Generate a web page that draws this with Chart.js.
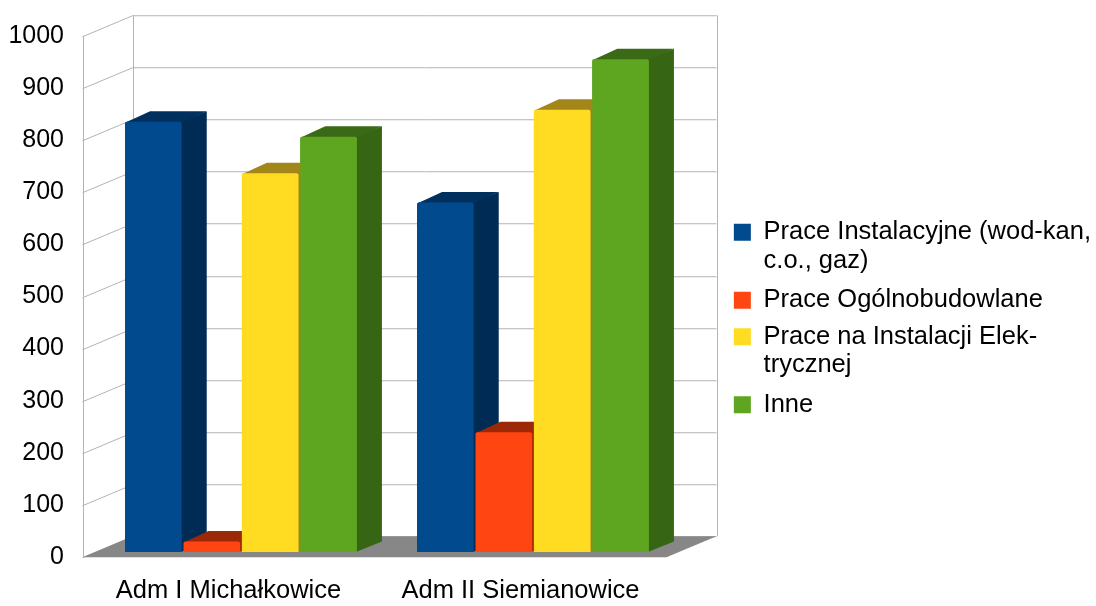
<!DOCTYPE html>
<html>
<head>
<meta charset="utf-8">
<title>Prace 2 administracje</title>
<script src="https://cdn.jsdelivr.net/npm/chart.js@4.4.1/dist/chart.umd.min.js"></script>
<style>
  html, body { margin: 0; padding: 0; background: #ffffff; }
</style>
</head>
<body>
<canvas id="prace" width="1096" height="606"></canvas>
<script>
// data
const categories = ["Adm I Michałkowice", "Adm II Siemianowice"];
const seriesNames = [
  "Prace Instalacyjne (wod-kan, c.o., gaz)",
  "Prace Ogólnobudowlane",
  "Prace na Instalacji Elektrycznej",
  "Inne"
];
// legend text as it is wrapped in the original
const legendLines = [
  ["Prace Instalacyjne (wod-kan,", "c.o., gaz)"],
  ["Prace Ogólnobudowlane"],
  ["Prace na Instalacji Elek-", "trycznej"],
  ["Inne"]
];
const instalacyjne = [826, 671];
const ogolnobudowlane = [20, 230];
const elektryczne = [727, 849];
const inne = [797, 946];
const yTicks = [0, 100, 200, 300, 400, 500, 600, 700, 800, 900, 1000];

// colours: front, side, top
const frontCol = ["#004a8d", "#ff4511", "#ffdc22", "#5ea520"];
const sideCol = ["#002b54", "#a32a0a", "#a08414", "#366514"];
const topCol = ["#00305d", "#9c2808", "#a3861a", "#3a6a16"];

Chart.defaults.font.family = "'Liberation Sans', Arial, sans-serif";
Chart.defaults.color = "#000";

// 3d look: the walls sit 0.25 of the depth in front of / 0.75 behind the bar plane
const DX = 50, DY = -21;
const FRONT = 0.25;

const walls3d = {
  id: "walls3d",
  afterLayout(chart) {
    // nudge legend a little to the right, like the original
    chart.legend.left += 5;
    chart.legend.right += 5;
  },
  beforeDatasetsDraw(chart) {
    const {ctx, chartArea: a, scales: {y}} = chart;
    const fx = -DX * FRONT, fy = -DY * FRONT;
    const bx = DX * (1 - FRONT), by = DY * (1 - FRONT);
    const y0 = y.getPixelForValue(0);
    const yTop = y.getPixelForValue(yTicks[yTicks.length - 1]);
    ctx.save();
    ctx.strokeStyle = "#b3b3b3";
    ctx.lineWidth = 1;
    ctx.beginPath();
    yTicks.forEach(v => {
      const p = Math.round(y.getPixelForValue(v)) + 0.5;
      ctx.moveTo(a.left + fx, p + fy);
      ctx.lineTo(a.left + bx, p + by);
      ctx.lineTo(a.right + bx, p + by);
    });
    // wall edges
    ctx.moveTo(Math.round(a.left + fx) + 0.5, yTop + fy);
    ctx.lineTo(Math.round(a.left + fx) + 0.5, y0 + fy);
    ctx.moveTo(Math.round(a.left + bx) + 0.5, yTop + by);
    ctx.lineTo(Math.round(a.left + bx) + 0.5, y0 + by);
    ctx.moveTo(Math.round(a.right + bx) + 0.5, yTop + by);
    ctx.lineTo(Math.round(a.right + bx) + 0.5, y0 + by);
    ctx.stroke();
    // floor
    ctx.fillStyle = "#878787";
    ctx.beginPath();
    ctx.moveTo(a.left + fx, y0 + fy);
    ctx.lineTo(a.right + fx, y0 + fy);
    ctx.lineTo(a.right + bx, y0 + by);
    ctx.lineTo(a.left + bx, y0 + by);
    ctx.closePath();
    ctx.fill();
    ctx.restore();
  },
  afterDatasetsDraw(chart) {
    const ctx = chart.ctx;
    const dx = DX * 0.5, dy = DY * 0.5;
    ctx.save();
    categories.forEach((c, j) => {
      chart.data.datasets.forEach((ds, i) => {
        const bar = chart.getDatasetMeta(i).data[j];
        const {x, y, base, width} = bar.getProps(["x", "y", "base", "width"], true);
        const l = x - width / 2, r = x + width / 2;
        ctx.fillStyle = sideCol[i];
        ctx.beginPath();
        ctx.moveTo(r - 1, y);
        ctx.lineTo(r + dx, y + dy);
        ctx.lineTo(r + dx, base + dy);
        ctx.lineTo(r - 1, base);
        ctx.closePath();
        ctx.fill();
        ctx.fillStyle = topCol[i];
        ctx.beginPath();
        ctx.moveTo(l, y + 1);
        ctx.lineTo(l + dx, y + dy);
        ctx.lineTo(r + dx, y + dy);
        ctx.lineTo(r, y + 1);
        ctx.closePath();
        ctx.fill();
        bar.draw(ctx);
      });
    });
    ctx.restore();
  }
};

const data_prace = {
  labels: categories,
  datasets: [instalacyjne, ogolnobudowlane, elektryczne, inne].map((vals, i) => ({
    label: seriesNames[i],
    data: vals,
    backgroundColor: frontCol[i],
    borderColor: sideCol[i],
    borderWidth: 0,
    borderRadius: 2,
    barPercentage: 0.97,
    categoryPercentage: 0.8
  }))
};

const noPad = s => { s.paddingTop = 0; s.paddingBottom = 0; };

const config_prace = {
  type: "bar",
  data: data_prace,
  options: {
    responsive: false,
    animation: false,
    layout: { padding: { top: 31, left: 0, right: 0, bottom: 0 } },
    scales: {
      x: {
        grid: { display: false, drawTicks: false },
        border: { display: false },
        ticks: { font: { size: 25.5 }, padding: 24, labelOffset: -12.5, maxRotation: 0 },
        afterFit: s => { s.height = 54; }
      },
      y: {
        min: 0,
        max: 1000,
        grid: { display: false, drawTicks: false },
        border: { display: false },
        ticks: {
          stepSize: 100,
          font: { size: 25 },
          padding: 31,
          labelOffset: 5,
          callback: v => String(v)
        },
        afterFit: s => { s.width = 95; noPad(s); }
      },
      gap: {
        type: "linear",
        position: "right",
        grid: { display: false, drawTicks: false },
        border: { display: false },
        ticks: { display: false },
        afterFit: s => {
          s.width = Math.max(0, s.chart.width - s.chart.legend.width - 679);
          noPad(s);
        }
      }
    },
    plugins: {
      title: { display: false },
      tooltip: { enabled: false },
      legend: {
        position: "right",
        align: "center",
        maxWidth: 420,
        labels: {
          boxWidth: 17,
          boxHeight: 17,
          padding: 11,
          color: "#000",
          font: { size: 25.5, lineHeight: 1.12 },
          generateLabels: () => legendLines.map((lines, i) => ({
            text: lines.length > 1 ? lines : lines[0],
            fillStyle: frontCol[i],
            strokeStyle: frontCol[i],
            lineWidth: 0,
            hidden: false,
            datasetIndex: i
          }))
        }
      }
    }
  },
  plugins: [walls3d]
};

const prace = new Chart(document.getElementById("prace"), config_prace);
</script>
</body>
</html>
